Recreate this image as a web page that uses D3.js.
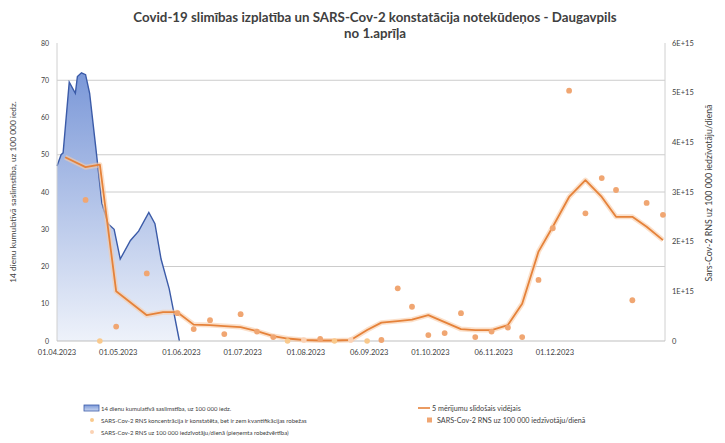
<!DOCTYPE html>
<html>
<head>
<meta charset="utf-8">
<script src="https://cdn.jsdelivr.net/npm/d3@7"></script>
<style>
  body { margin: 0; background: #fff; }
  text { font-family: Lato, "Open Sans", sans-serif; fill: #404040; }
</style>
</head>
<body>
<svg id="svg"></svg>
<script>
let svg = d3.select("#svg");

const width = 725;
const height = 443;

// 14 day cumulative incidence (left axis)
const caseDates = ["2023-04-01", "2023-04-03", "2023-04-04", "2023-04-07", "2023-04-10", "2023-04-11",
    "2023-04-13", "2023-04-15", "2023-04-17", "2023-04-20", "2023-04-23", "2023-04-26", "2023-04-29",
    "2023-05-02", "2023-05-07", "2023-05-11", "2023-05-16", "2023-05-19", "2023-05-22", "2023-05-26", "2023-05-31"];
const caseValues = [47, 50, 50.5, 69.5, 66.5, 71, 72, 71.5, 66.5, 52, 37, 31.5, 30, 22, 27, 29.5, 34.5, 31.5, 22, 14, 0];

// SARS-Cov-2 RNS per 100 000 inhabitants/day (right axis)
const rnaDates = ["2023-04-15", "2023-04-30", "2023-05-15", "2023-05-30", "2023-06-07", "2023-06-15", "2023-06-22",
    "2023-06-30", "2023-07-08", "2023-07-16", "2023-08-08", "2023-09-07", "2023-09-15", "2023-09-22", "2023-09-30",
    "2023-10-08", "2023-10-16", "2023-10-23", "2023-10-31", "2023-11-08", "2023-11-15", "2023-11-23", "2023-11-30",
    "2023-12-08", "2023-12-16", "2023-12-24", "2023-12-31", "2024-01-08", "2024-01-15", "2024-01-23"];
const rnaValues = [2.84e15, 0.29e15, 1.36e15, 0.56e15, 0.24e15, 0.42e15, 0.14e15, 0.54e15, 0.19e15, 0.08e15,
    0.04e15, 0.02e15, 1.06e15, 0.69e15, 0.12e15, 0.16e15, 0.56e15, 0.08e15, 0.19e15, 0.27e15, 0.08e15,
    1.23e15, 2.27e15, 5.04e15, 2.57e15, 3.28e15, 3.04e15, 0.82e15, 2.78e15, 2.54e15];

// below quantification limit
const lowDates = ["2023-04-22", "2023-07-23", "2023-08-15", "2023-08-31"];
const lowValues = [0, 0, 0, 0];

// assumed limit value
const limitDates = ["2023-07-31", "2023-08-23"];
const limitValues = [0.02e15, 0.02e15];

// 5 measurement moving average
const avgDates = ["2023-04-05", "2023-04-15", "2023-04-22", "2023-04-30", "2023-05-15", "2023-05-23", "2023-05-30",
    "2023-06-07", "2023-06-15", "2023-06-22", "2023-06-30", "2023-07-08", "2023-07-16", "2023-07-23", "2023-07-31",
    "2023-08-08", "2023-08-15", "2023-08-23", "2023-08-31", "2023-09-07", "2023-09-15", "2023-09-22", "2023-09-30",
    "2023-10-08", "2023-10-16", "2023-10-23", "2023-10-31", "2023-11-08", "2023-11-15", "2023-11-23", "2023-11-30",
    "2023-12-08", "2023-12-16", "2023-12-24", "2023-12-31", "2024-01-08", "2024-01-15", "2024-01-23"];
const avgValues = [3.70e15, 3.50e15, 3.55e15, 1.0e15, 0.52e15, 0.58e15, 0.58e15, 0.33e15, 0.32e15, 0.30e15,
    0.28e15, 0.20e15, 0.10e15, 0.05e15, 0.02e15, 0.01e15, 0.01e15, 0.02e15, 0.22e15, 0.37e15, 0.40e15, 0.43e15,
    0.52e15, 0.38e15, 0.24e15, 0.22e15, 0.22e15, 0.32e15, 0.75e15, 1.8e15, 2.3e15, 2.9e15, 3.24e15, 2.9e15,
    2.5e15, 2.5e15, 2.3e15, 2.03e15];

const tickDates = ["2023-04-01", "2023-05-01", "2023-06-01", "2023-07-01", "2023-08-01", "2023-09-01",
    "2023-10-01", "2023-11-01", "2023-12-01"];
const tickLabels = ["01.04.2023", "01.05.2023", "01.06.2023", "01.07.2023", "01.08.2023", "06.09.2023",
    "01.10.2023", "06.11.2023", "01.12.2023"];
const leftTicks = [0, 10, 20, 30, 40, 50, 60, 70, 80];
const rightTicks = [0, 1e15, 2e15, 3e15, 4e15, 5e15, 6e15];
const gridValues = [20, 40, 50, 70];

const parse = d3.timeParse("%Y-%m-%d");
const zip = (ds, vs) => ds.map((d, i) => ({ date: parse(d), value: vs[i] }));

const cases = zip(caseDates, caseValues);
const rna = zip(rnaDates, rnaValues);
const low = zip(lowDates, lowValues);
const limit = zip(limitDates, limitValues);
const avg = zip(avgDates, avgValues);

svg.attr("width", width).attr("height", height);
svg.append("rect").attr("width", width).attr("height", height).attr("fill", "#fff");

const plotLeft = 57, plotRight = 665, plotTop = 43, plotBottom = 341;

let x = d3.scaleTime()
    .domain([parse("2023-04-01"), parse("2024-01-24")])
    .range([plotLeft, plotRight]);
let yL = d3.scaleLinear().domain([0, 80]).range([plotBottom, plotTop]);
let yR = d3.scaleLinear().domain([0, 6e15]).range([plotBottom, plotTop]);

// gradient for the area
let defs = svg.append("defs");
let grad = defs.append("linearGradient").attr("id", "blueFill")
    .attr("x1", 0).attr("x2", 0).attr("y1", 0).attr("y2", 1);
grad.append("stop").attr("offset", "0%").attr("stop-color", "#7b98d8");
grad.append("stop").attr("offset", "100%").attr("stop-color", "#eef2fa");
let lgrad = defs.append("linearGradient").attr("id", "blueLegend")
    .attr("x1", 0).attr("x2", 0).attr("y1", 0).attr("y2", 1);
lgrad.append("stop").attr("offset", "0%").attr("stop-color", "#7b98d8");
lgrad.append("stop").attr("offset", "100%").attr("stop-color", "#c9d6f0");

// gridlines
svg.append("g").selectAll("line")
    .data(gridValues)
    .enter().append("line")
    .attr("x1", plotLeft).attr("x2", plotRight)
    .attr("y1", d => yL(d)).attr("y2", d => yL(d))
    .attr("stroke", "#cccccc").attr("stroke-width", 1);

// blue area
let area = d3.area().x(d => x(d.date)).y0(yL(0)).y1(d => yL(d.value));
let line = d3.line().x(d => x(d.date)).y(d => yL(d.value));
svg.append("path").datum(cases).attr("d", area).attr("fill", "url(#blueFill)");
svg.append("path").datum(cases).attr("d", line)
    .attr("fill", "none").attr("stroke", "#3b5ba8").attr("stroke-width", 1.4);

// axis lines
svg.append("line").attr("x1", plotLeft).attr("x2", plotLeft).attr("y1", plotTop).attr("y2", plotBottom)
    .attr("stroke", "#d0d0d0");
svg.append("line").attr("x1", plotRight).attr("x2", plotRight).attr("y1", plotTop).attr("y2", plotBottom)
    .attr("stroke", "#d0d0d0");
svg.append("line").attr("x1", plotLeft).attr("x2", plotRight).attr("y1", plotBottom).attr("y2", plotBottom)
    .attr("stroke", "#bfbfbf");

// moving average
let avgLine = d3.line().x(d => x(d.date)).y(d => yR(d.value));
svg.append("path").datum(avg).attr("d", avgLine)
    .attr("fill", "none").attr("stroke", "#f8cba6").attr("stroke-width", 5)
    .attr("stroke-opacity", 0.6).attr("stroke-linejoin", "round");
svg.append("path").datum(avg).attr("d", avgLine)
    .attr("fill", "none").attr("stroke", "#e5823a").attr("stroke-width", 1.8)
    .attr("stroke-linejoin", "round");

// dots
function drawDots(data, fill, r) {
    svg.append("g").selectAll("circle")
        .data(data)
        .enter().append("circle")
        .attr("cx", d => x(d.date))
        .attr("cy", d => yR(d.value))
        .attr("r", r)
        .attr("fill", fill);
}
drawDots(low, "#f9c98c", 2.8);
drawDots(limit, "#fbd2b4", 2.8);
drawDots(rna, "#f0a672", 2.9);

// left axis labels
svg.append("g").selectAll("text")
    .data(leftTicks)
    .enter().append("text")
    .attr("x", 49).attr("y", d => yL(d) + 2.5)
    .attr("text-anchor", "end")
    .style("font-size", "7px")
    .text(d => d);

// right axis labels
svg.append("g").selectAll("text")
    .data(rightTicks)
    .enter().append("text")
    .attr("x", 672).attr("y", d => yR(d) + 2.5)
    .style("font-size", "7.5px")
    .text(d => d === 0 ? "0" : (d / 1e15) + "E+15");

// x axis labels
svg.append("g").selectAll("text")
    .data(tickDates)
    .enter().append("text")
    .attr("x", d => x(parse(d))).attr("y", 355)
    .attr("text-anchor", "middle")
    .style("font-size", "7.5px")
    .text((d, i) => tickLabels[i]);

// title
svg.append("text")
    .attr("x", 375).attr("y", 22)
    .attr("text-anchor", "middle")
    .style("font-size", "13.3px").style("font-weight", "bold")
    .text("Covid-19 slimības izplatība un SARS-Cov-2 konstatācija notekūdeņos - Daugavpils");
svg.append("text")
    .attr("x", 375).attr("y", 38)
    .attr("text-anchor", "middle")
    .style("font-size", "13.3px").style("font-weight", "bold")
    .text("no 1.aprīļa");

// axis titles
svg.append("text")
    .attr("transform", "translate(16,192) rotate(-90)")
    .attr("text-anchor", "middle")
    .style("font-size", "8.4px")
    .text("14 dienu kumulatīvā saslimstība, uz 100 000 iedz.");
svg.append("text")
    .attr("transform", "translate(712,193) rotate(-90)")
    .attr("text-anchor", "middle")
    .style("font-size", "8.8px")
    .text("Sars-Cov-2 RNS uz 100 000 iedzīvotāju/dienā");

// legend
let lg = svg.append("g").style("font-size", "6px");
lg.append("rect").attr("x", 84).attr("y", 405).attr("width", 15).attr("height", 6)
    .attr("fill", "url(#blueLegend)").attr("stroke", "#3b5ba8").attr("stroke-width", 0.8);
lg.append("text").attr("x", 101).attr("y", 410.5).text("14 dienu kumulatīvā saslimstība, uz 100 000 iedz.");
lg.append("circle").attr("cx", 92).attr("cy", 420).attr("r", 2).attr("fill", "#f9c98c");
lg.append("text").attr("x", 101).attr("y", 422.5)
    .text("SARS-Cov-2 RNS koncentrācija ir konstatēta, bet ir zem kvantifikācijas robežas");
lg.append("circle").attr("cx", 92).attr("cy", 432).attr("r", 2).attr("fill", "#fbd2b4");
lg.append("text").attr("x", 101).attr("y", 434.5)
    .text("SARS-Cov-2 RNS uz 100 000 iedzīvotāju/dienā (pieņemta robežvērtība)");
let lg2 = svg.append("g").style("font-size", "7.2px");
lg2.append("line").attr("x1", 418).attr("x2", 430).attr("y1", 408).attr("y2", 408)
    .attr("stroke", "#e5823a").attr("stroke-width", 1.6);
lg2.append("text").attr("x", 432).attr("y", 410.5).text("5 mērījumu slīdošais vidējais");
lg2.append("rect").attr("x", 427).attr("y", 417.5).attr("width", 5).attr("height", 5).attr("fill", "#f0a672");
lg2.append("text").attr("x", 437).attr("y", 422.5).text("SARS-Cov-2 RNS uz 100 000 iedzīvotāju/dienā");
</script>
</body>
</html>
